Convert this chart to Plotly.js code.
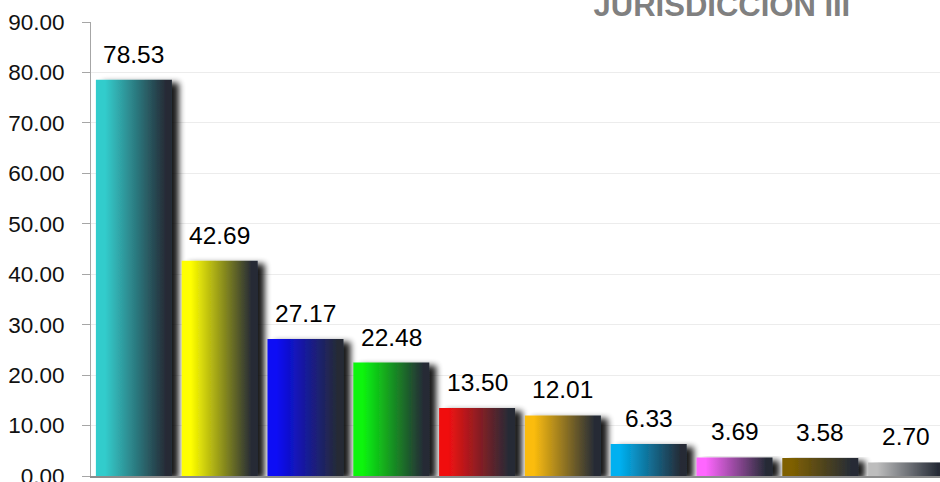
<!DOCTYPE html>
<html>
<head>
<meta charset="utf-8">
<script src="https://cdn.plot.ly/plotly-3.0.1.min.js"></script>
<style>
html, body { margin: 0; padding: 0; overflow: hidden; background: #fff; }
#chart { width: 960px; height: 482px; }
</style>
</head>
<body>
<div id="chart"></div>
<script>
// Data
const categories = ['Cat 1', 'Cat 2', 'Cat 3', 'Cat 4', 'Cat 5', 'Cat 6', 'Cat 7', 'Cat 8', 'Cat 9', 'Cat 10'];
const values = [78.53, 42.69, 27.17, 22.48, 13.50, 12.01, 6.33, 3.69, 3.58, 2.70];
const barColors = ['#33CCCC', '#FFFF00', '#0A0AF5', '#0AF50F', '#F01010', '#FBBC0E', '#00B0F0', '#FF66FF', '#7F6000', '#BDBDBD'];
const yTicks = [0, 10, 20, 30, 40, 50, 60, 70, 80, 90];
const titleText = 'JURISDICCION III';

const FONT = 'Liberation Sans, Arial, sans-serif';

const trace = {
  type: 'bar',
  x: categories,
  y: values,
  marker: { color: barColors, line: { width: 0 } },
  hoverinfo: 'skip',
  cliponaxis: false
};

const annotations = categories.map((c, i) => ({
  x: c, y: values[i], xref: 'x', yref: 'y',
  text: values[i].toFixed(2),
  showarrow: false,
  yanchor: 'bottom', xanchor: 'center',
  yshift: 10,
  font: { family: FONT, size: 24.5, color: '#000000' }
}));

const layout = {
  width: 960, height: 482,
  margin: { l: 91, r: 11, t: 22, b: 6, pad: 0 },
  paper_bgcolor: '#ffffff',
  plot_bgcolor: '#ffffff',
  bargap: 0.114,
  showlegend: false,
  title: {
    text: '<b>' + titleText + '</b>',
    font: { family: FONT, size: 31, color: '#808080' },
    xref: 'container', yref: 'container',
    x: 0.752, xanchor: 'center',
    y: 0.990, yanchor: 'middle'
  },
  xaxis: {
    type: 'category',
    showticklabels: false,
    ticks: '',
    showgrid: false,
    showline: true, linecolor: '#8c8c8c', linewidth: 2,
    zeroline: false
  },
  yaxis: {
    range: [0, 90],
    tickvals: yTicks,
    tickformat: '.2f',
    ticks: 'outside', ticklen: 8, tickcolor: '#a6a6a6', tickwidth: 1,
    ticklabelstandoff: 13,
    ticklabeloverflow: 'allow',
    tickfont: { family: FONT, size: 22.5, color: '#111111' },
    showgrid: true, gridcolor: '#ececec', gridwidth: 1,
    showline: true, linecolor: '#a6a6a6', linewidth: 1,
    zeroline: false
  },
  annotations: annotations
};

Plotly.newPlot('chart', [trace], layout, { staticPlot: true, displayModeBar: false }).then(gd => {
  const NS = 'http://www.w3.org/2000/svg';
  const svg = gd.querySelector('svg.main-svg');
  let defs = svg.querySelector('defs');
  if (!defs) { defs = document.createElementNS(NS, 'defs'); svg.insertBefore(defs, svg.firstChild); }

  // drop shadow filter
  const filt = document.createElementNS(NS, 'filter');
  filt.setAttribute('id', 'barShadow');
  filt.setAttribute('x', '-20%'); filt.setAttribute('y', '-20%');
  filt.setAttribute('width', '150%'); filt.setAttribute('height', '150%');
  filt.innerHTML =
    '<feGaussianBlur in="SourceAlpha" stdDeviation="3" result="blur"/>' +
    '<feOffset in="blur" dx="7" dy="3" result="off"/>' +
    '<feComponentTransfer in="off" result="shadow"><feFuncA type="linear" slope="0.9"/></feComponentTransfer>' +
    '<feMerge><feMergeNode in="shadow"/><feMergeNode in="SourceGraphic"/></feMerge>';
  defs.appendChild(filt);

  const paths = gd.querySelectorAll('.trace.bars .point path');
  paths.forEach((p, i) => {
    const g = document.createElementNS(NS, 'linearGradient');
    g.setAttribute('id', 'barGrad' + i);
    g.setAttribute('x1', '0'); g.setAttribute('y1', '0');
    g.setAttribute('x2', '1'); g.setAttribute('y2', '0');
    const c = barColors[i];
    g.innerHTML =
      '<stop offset="0" stop-color="' + c + '"/>' +
      '<stop offset="0.12" stop-color="' + c + '"/>' +
      '<stop offset="0.92" stop-color="#252b36"/>' +
      '<stop offset="1" stop-color="#252b36"/>';
    defs.appendChild(g);
    p.style.fill = 'url(#barGrad' + i + ')';
    p.style.filter = 'url(#barShadow)';
  });
});
</script>
</body>
</html>
